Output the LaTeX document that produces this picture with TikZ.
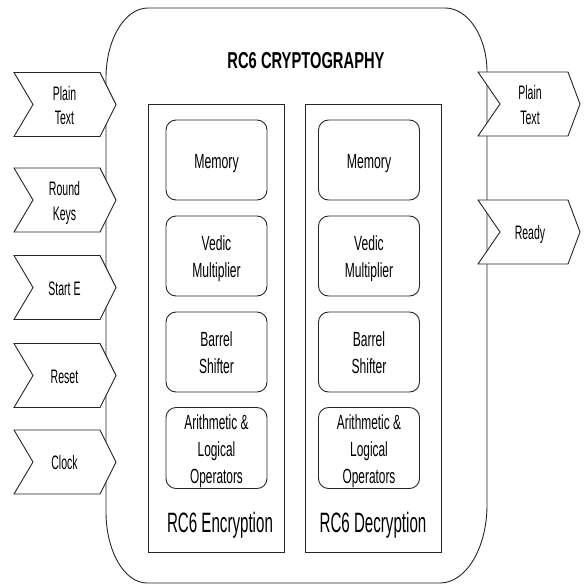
\documentclass[tikz,border=0pt]{standalone}
\usepackage{fontspec}
\setmainfont{Liberation Sans}
\usepackage{graphicx}
% condensed, centred multi-line text, set slightly below the optical centre
\newcommand\narrowtext[2]{\raisebox{-3pt}[\height][\depth]{\scalebox{#1}[1]{\begin{tabular}{@{}c@{}}#2\end{tabular}}}}
\tikzset{
  edge/.style={draw=black!85, line width=0.9pt},
  chevron/.style={edge, fill=white, line join=miter},
  chevtext/.style={font=\fontsize{19.5}{24.5}\selectfont, inner sep=0pt},
  unit/.style={edge, rounded corners=10pt, minimum width=101pt, minimum height=80pt, inner sep=0pt, font=\fontsize{20.5}{27}\selectfont},
  panel/.style={edge, minimum width=136pt, minimum height=448pt, inner sep=0pt},
  paneltitle/.style={font=\fontsize{28}{34}\selectfont, inner sep=0pt},
}
\begin{document}
\begin{tikzpicture}[x=1pt, y=-1pt]
\useasboundingbox[fill=white] (0,0) rectangle (585,584);

% main enclosure with elliptical corners
\draw[edge] (148,8) -- (445,8)
  .. controls (468.2,8) and (487,36.7) .. (487,72)
  -- (487,505)
  .. controls (487,548) and (466,583) .. (440,583)
  -- (147,583)
  .. controls (124.4,583) and (106,551.2) .. (106,512)
  -- (106,78)
  .. controls (106,39.3) and (124.8,8) .. cycle;

\node[font=\bfseries\fontsize{23}{28}\selectfont, inner sep=0pt] (title) at (306,61)
  {\scalebox{0.64}[1]{RC6 CRYPTOGRAPHY}};

% encryption and decryption panels
\node[panel] (enc) at (216,328) {};
\node[panel] (dec) at (373.5,328) {};

\node[unit] (encmem) at (216.5,160) {\narrowtext{0.6}{Memory}};
\node[unit] (encmul) at (216.5,256) {\narrowtext{0.59}{Vedic\\Multiplier}};
\node[unit] (encsh)  at (216.5,352) {\narrowtext{0.59}{Barrel\\Shifter}};
\node[unit] (encalu) at (216.5,448) {\narrowtext{0.58}{Arithmetic \&\\Logical\\Operators}};

\node[unit] (decmem) at (369,160) {\narrowtext{0.6}{Memory}};
\node[unit] (decmul) at (369,256) {\narrowtext{0.59}{Vedic\\Multiplier}};
\node[unit] (decsh)  at (369,352) {\narrowtext{0.59}{Barrel\\Shifter}};
\node[unit] (decalu) at (369,448) {\narrowtext{0.58}{Arithmetic \&\\Logical\\Operators}};

\node[paneltitle] (enclabel) at (220,525) {\scalebox{0.54}[1]{RC6 Encryption}};
\node[paneltitle] (declabel) at (373,525) {\scalebox{0.54}[1]{RC6 Decryption}};

% input signals (left)
\foreach \yc/\nm/\txt in {104.5/inpt/{Plain\\Text}, 200/inrk/{Round\\Keys}, 287.5/inse/{Start E}, 375.5/inrst/{Reset}, 462/inclk/{Clock}}{
  \draw[chevron] (14,\yc-32) -- (100,\yc-32) -- (116,\yc) -- (100,\yc+32)
    -- (14,\yc+32) -- (33,\yc) -- cycle;
  \node[chevtext] (\nm) at (64.5,\yc) {\narrowtext{0.54}{\txt}};
}

% output signals (right)
\foreach \yc/\nm/\txt in {104/outpt/{Plain\\Text}, 232/outrdy/{Ready}}{
  \draw[chevron] (478,\yc-32) -- (568,\yc-32) -- (580,\yc) -- (568,\yc+32)
    -- (478,\yc+32) -- (500,\yc) -- cycle;
  \node[chevtext] (\nm) at (530,\yc) {\narrowtext{0.54}{\txt}};
}
\end{tikzpicture}
\end{document}
